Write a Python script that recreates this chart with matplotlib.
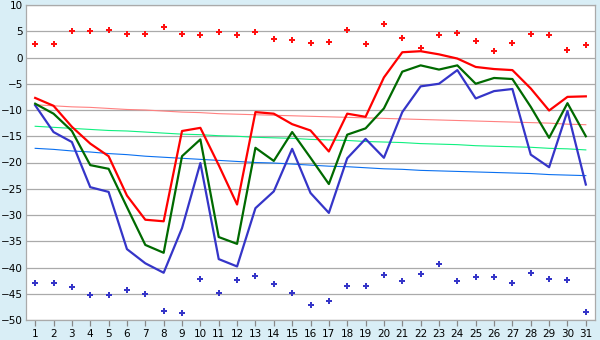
import numpy as np
import matplotlib.pyplot as plt

days = np.arange(1, 32)

# daily max / mean / min temperature
t_max = [-7.7, -9.2, -13.2, -16.4, -18.8, -26.3, -30.9, -31.2, -14.0, -13.4,
         -20.5, -28.0, -10.4, -10.7, -12.7, -13.9, -17.9, -10.7, -11.3, -3.8,
         1.0, 1.2, 0.6, -0.2, -1.8, -2.2, -2.4, -5.9, -10.1, -7.5, -7.4]
t_mean = [-8.8, -10.7, -14.0, -20.5, -21.2, -28.5, -35.7, -37.2, -18.8, -15.6,
          -34.2, -35.5, -17.2, -19.7, -14.2, -19.1, -24.1, -14.7, -13.5, -9.7,
          -2.7, -1.5, -2.3, -1.5, -5.0, -3.9, -4.1, -9.4, -15.3, -8.7, -15.0]
t_min = [-9.1, -14.2, -16.1, -24.7, -25.6, -36.5, -39.2, -41.0, -32.5, -20.1,
         -38.4, -39.8, -28.7, -25.5, -17.4, -25.8, -29.6, -19.2, -15.5, -19.1,
         -10.4, -5.5, -5.0, -2.4, -7.8, -6.4, -6.0, -18.5, -20.9, -10.2, -24.2]

# absolute extremes
rec_max = [2.5, 2.5, 5.0, 5.0, 5.3, 4.4, 4.4, 5.9, 4.4, 4.2,
           4.8, 4.2, 4.8, 3.6, 3.4, 2.7, 2.9, 5.2, 2.5, 6.3,
           3.8, 1.9, 4.2, 4.6, 3.2, 1.3, 2.7, 4.4, 4.2, 1.5, 2.3]
rec_min = [-42.9, -42.9, -43.7, -45.2, -45.2, -44.3, -45.0, -48.3, -48.7, -42.2,
           -44.8, -42.4, -41.6, -43.1, -44.8, -47.1, -46.4, -43.5, -43.5, -41.4,
           -42.6, -41.2, -39.3, -42.6, -41.8, -41.8, -42.9, -41.0, -42.2, -42.4, -48.5]

# climate normals
norm_max = [-9.0, -9.2, -9.4, -9.5, -9.7, -9.9, -10.0, -10.2, -10.4, -10.5,
            -10.7, -10.8, -10.9, -11.0, -11.1, -11.2, -11.3, -11.4, -11.5, -11.6,
            -11.7, -11.8, -11.9, -12.0, -12.1, -12.2, -12.3, -12.4, -12.5, -12.7, -12.8]
norm_mean = [-13.1, -13.3, -13.5, -13.7, -13.9, -14.0, -14.2, -14.4, -14.6, -14.7,
             -14.9, -15.0, -15.2, -15.3, -15.4, -15.6, -15.7, -15.8, -16.0, -16.1,
             -16.2, -16.4, -16.5, -16.6, -16.8, -16.9, -17.0, -17.1, -17.3, -17.4, -17.6]
norm_min = [-17.3, -17.5, -17.8, -18.0, -18.3, -18.5, -18.8, -19.0, -19.2, -19.4,
            -19.6, -19.8, -20.0, -20.1, -20.3, -20.5, -20.7, -20.8, -21.0, -21.2,
            -21.3, -21.5, -21.6, -21.7, -21.8, -21.9, -22.0, -22.1, -22.3, -22.4, -22.5]

fig = plt.figure(figsize=(6, 3.4), dpi=100, facecolor='#d9eef6')
ax = fig.add_axes([26 / 600, 1 - 320 / 340, 569 / 600, 315 / 340])
ax.set_facecolor('white')

ax.plot(days, norm_max, color='#ff8080', lw=0.8, zorder=2)
ax.plot(days, norm_mean, color='#10f080', lw=0.8, zorder=2)
ax.plot(days, norm_min, color='#0a70f0', lw=0.8, zorder=2)

ax.plot(days, t_min, color='#3535c8', lw=1.6, zorder=3)
ax.plot(days, t_mean, color='#006a00', lw=1.6, zorder=4)
ax.plot(days, t_max, color='#ff0000', lw=1.6, zorder=5)

ax.plot(days, rec_max, 'P', color='#ff1010', ms=4, mew=0, zorder=6)
ax.plot(days, rec_min, 'P', color='#3535c8', ms=4, mew=0, zorder=6)

ax.set_xlim(0.5, 31.5)
ax.set_ylim(-50, 10)
ax.set_xticks(days)
ax.set_yticks(np.arange(-50, 11, 5))
ax.grid(axis='y', color='#aaaaaa', lw=0.9)
ax.set_axisbelow(True)
for s in ax.spines.values():
    s.set_color('#aaaaaa')
    s.set_linewidth(0.9)

ax.tick_params(axis='x', length=4.5, width=0.9, color='#888888', pad=2, labelsize=7.5)
ax.tick_params(axis='y', length=0, pad=2, labelsize=7.5)

fig.savefig('out.png', dpi=100, facecolor=fig.get_facecolor())
